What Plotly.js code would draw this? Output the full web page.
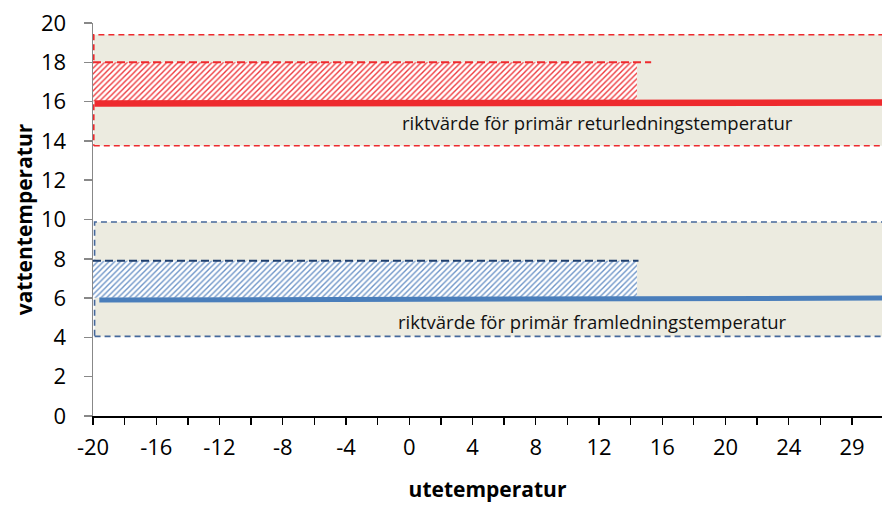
<!DOCTYPE html>
<html>
<head>
<meta charset="utf-8">
<script src="https://cdn.plot.ly/plotly-3.0.1.min.js"></script>
<style>html,body{margin:0;padding:0;background:#fff}#chart{width:882px;height:505px}</style>
</head>
<body>
<div id="chart"></div>
<script>
// ---- data ----
const categories = [-20,-18,-16,-14,-12,-10,-8,-6,-4,-2,0,2,4,6,8,10,12,14,16,18,20,22,24,26,29];
const tickLabels = ['-20','','-16','','-12','','-8','','-4','','0','','4','','8','','12','','16','','20','','24','','29'];
const yTicks = [0,2,4,6,8,10,12,14,16,18,20];

// recommended return temperature (red)
const returnBandX = [-19.95, 32];
const returnBandY = [13.75, 19.4];
const returnLineX = [-19.9, 32];
const returnLineY = [15.9, 15.95];
const returnHatchX = [-20, 14.4];
const returnHatchTop = 18.0;
const returnHatchTopLineX = [-20, 15.3];

// recommended supply temperature (blue)
const supplyBandX = [-19.9, 32];
const supplyBandY = [4.05, 9.87];
const supplyLineX = [-19.6, 32];
const supplyLineY = [5.9, 6.0];
const supplyHatchX = [-20, 14.4];
const supplyHatchTop = 7.9;
const supplyHatchTopLineX = [-20, 14.5];

const returnText = 'riktvärde för primär returledningstemperatur';
const returnTextPos = [11.9, 14.93];
const supplyText = 'riktvärde för primär framledningstemperatur';
const supplyTextPos = [11.6, 4.79];

// map a temperature to its position on the category axis
function toIdx(t){
  const n = categories.length;
  if (t <= categories[0]) return (t - categories[0]) / (categories[1]-categories[0]);
  for (let i = 0; i < n-1; i++){
    if (t <= categories[i+1]) return i + (t - categories[i])/(categories[i+1]-categories[i]);
  }
  return (n-1) + (t - categories[n-1])/(categories[n-1]-categories[n-2]);
}
function rect(xs, ys){
  const a = toIdx(xs[0]), b = toIdx(xs[1]);
  return {x:[a,b,b,a,a], y:[ys[0],ys[0],ys[1],ys[1],ys[0]]};
}

const beige = '#ECEBE0';
const red = '#EE2A2E';
const blueLine = '#4A7EBB';
const blueBand = '#45689B';
const navy = '#1F3F6E';
const FONT = '"Open Sans", Lato, sans-serif';

const traces = [];
// bands
const rb = rect(returnBandX, returnBandY);
traces.push({x:rb.x, y:rb.y, mode:'lines', fill:'toself', fillcolor:beige,
  line:{color:red, width:1.6, dash:'6px,4px'}, hoverinfo:'skip', showlegend:false});
const sb = rect(supplyBandX, supplyBandY);
traces.push({x:sb.x, y:sb.y, mode:'lines', fill:'toself', fillcolor:beige,
  line:{color:blueBand, width:1.6, dash:'6px,4px'}, hoverinfo:'skip', showlegend:false});
// hatches
const rh = rect(returnHatchX, [returnLineY[0]+0.12, returnHatchTop]);
traces.push({x:rh.x, y:rh.y, mode:'none', fill:'toself', fillcolor:'#ffffff',
  fillpattern:{shape:'/', fgcolor:'#EE3A3E', bgcolor:'#ffffff', size:4, solidity:0.35},
  hoverinfo:'skip', showlegend:false});
const sh = rect(supplyHatchX, [supplyLineY[0]+0.12, supplyHatchTop]);
traces.push({x:sh.x, y:sh.y, mode:'none', fill:'toself', fillcolor:'#ffffff',
  fillpattern:{shape:'/', fgcolor:'#6E95C8', bgcolor:'#ffffff', size:4, solidity:0.35},
  hoverinfo:'skip', showlegend:false});
// hatch top dashed lines
traces.push({x:returnHatchTopLineX.map(toIdx), y:[returnHatchTop, returnHatchTop], mode:'lines',
  line:{color:red, width:2, dash:'8px,4px'}, hoverinfo:'skip', showlegend:false});
traces.push({x:supplyHatchTopLineX.map(toIdx), y:[supplyHatchTop, supplyHatchTop], mode:'lines',
  line:{color:navy, width:2.2, dash:'8px,4px'}, hoverinfo:'skip', showlegend:false});
// main lines
traces.push({x:returnLineX.map(toIdx), y:returnLineY, mode:'lines',
  line:{color:red, width:6.5}, hoverinfo:'skip', showlegend:false});
traces.push({x:supplyLineX.map(toIdx), y:supplyLineY, mode:'lines',
  line:{color:blueLine, width:5}, hoverinfo:'skip', showlegend:false});

const tickIdx = categories.map((c,i)=>i);

const layout = {
  width:882, height:505,
  margin:{l:93, r:0, t:23, b:89},
  paper_bgcolor:'#fff', plot_bgcolor:'#fff',
  font:{family:FONT, color:'#000'},
  xaxis:{
    range:[0, 24.95], showgrid:false, zeroline:false,
    tickmode:'array', tickvals:tickIdx, ticktext:tickLabels,
    ticks:'outside', ticklen:7, tickwidth:1.3, tickcolor:'#000',
    showline:true, linecolor:'#000', linewidth:1.5,
    tickfont:{size:22, family:FONT}, ticklabelstandoff:4,
    title:{text:'utetemperatur', font:{size:21, family:FONT, weight:'bold'}, standoff:22}
  },
  yaxis:{
    range:[0,20], showgrid:false, zeroline:false,
    tickmode:'array', tickvals:yTicks,
    ticks:'outside', ticklen:8, tickwidth:1.5, tickcolor:'#888',
    showline:true, linecolor:'#888', linewidth:1.5,
    tickfont:{size:22, family:FONT}, ticklabelstandoff:13,
    title:{text:'vattentemperatur', font:{size:21, family:FONT, weight:'bold'}, standoff:2}
  },
  annotations:[
    {x:toIdx(returnTextPos[0]), y:returnTextPos[1], xref:'x', yref:'y', text:returnText, showarrow:false,
     font:{size:18.5, family:FONT, color:'#111'}},
    {x:toIdx(supplyTextPos[0]), y:supplyTextPos[1], xref:'x', yref:'y', text:supplyText, showarrow:false,
     font:{size:18.5, family:FONT, color:'#111'}}
  ]
};

Plotly.newPlot('chart', traces, layout, {staticPlot:true, displayModeBar:false});
</script>
</body>
</html>
